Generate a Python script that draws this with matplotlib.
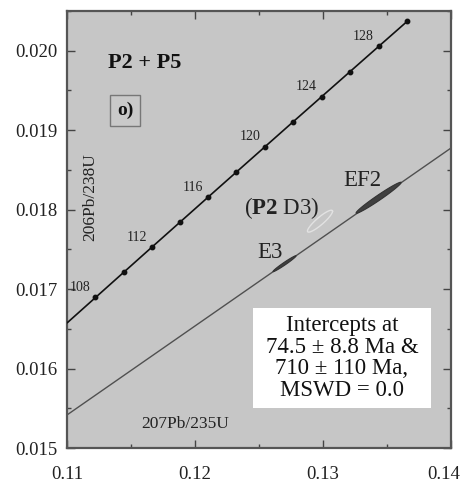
import numpy as np
import matplotlib
matplotlib.use("Agg")
import matplotlib.pyplot as plt
import matplotlib.transforms as mtransforms
from matplotlib.patches import Rectangle
from matplotlib.ticker import MultipleLocator

plt.rcParams['font.family'] = ['Liberation Serif', 'DejaVu Serif']
plt.rcParams['mathtext.fontset'] = 'custom'
plt.rcParams['mathtext.rm'] = 'Liberation Serif'
plt.rcParams['mathtext.bf'] = 'Liberation Serif:bold'

# постоянные распада (1/год)
lam238 = 1.55125e-10
lam235 = 9.8485e-10

# возрасты меток на конкордии, млн лет
ages = [108, 110, 112, 114, 116, 118, 120, 122, 124, 126, 128, 130]
age_labels = [108, 112, 116, 120, 124, 128]
# диапазон кривой конкордии
curve_age_min = 106.0
curve_age_max = 130.0

# пересечения дискордии, млн лет
lower_intercept = 74.5
upper_intercept = 710.0

# эллипсы: x (207Pb/235U), sx, y (206Pb/238U), sy, rho
names = ['E3', 'EF2', 'P2 D3']
ell_x = [0.1270, 0.13435, 0.12977]
ell_sx = [0.00090, 0.00176, 0.00098]
ell_y = [0.01732, 0.01815, 0.017855]
ell_sy = [0.00010, 0.000195, 0.000138]
ell_rho = [0.98, 0.98, 0.90]


def pb206(t):
    return np.exp(lam238 * np.asarray(t) * 1e6) - 1


def pb207(t):
    return np.exp(lam235 * np.asarray(t) * 1e6) - 1


fig = plt.figure(figsize=(4.62, 4.82), dpi=100)
ax = fig.add_axes([0.145, 0.0705, 0.831, 0.9066])
ax.set_facecolor('#c6c6c6')

# конкордия
tc = np.linspace(curve_age_min, curve_age_max, 200)
ax.plot(pb207(tc), pb206(tc), color='#111111', lw=1.2, zorder=3)
ax.plot(pb207(ages), pb206(ages), 'o', color='#111111', ms=3.2, zorder=4)
for a in age_labels:
    ax.annotate(str(a), (pb207(a), pb206(a)), xytext=(-15, 10),
                textcoords='offset pixels', ha='center', va='center',
                fontsize=10, color='#222222')

# дискордия
ti = np.array([lower_intercept, upper_intercept])
ax.plot(pb207(ti), pb206(ti), color='#505050', lw=1.0, zorder=2)

# эллипсы погрешностей
t = np.linspace(0, 2 * np.pi, 200)
for i in range(3):
    ex = ell_x[i] + ell_sx[i] * np.cos(t)
    ey = ell_y[i] + ell_sy[i] * (ell_rho[i] * np.cos(t)
                                 + np.sqrt(1 - ell_rho[i] ** 2) * np.sin(t))
    if names[i] == 'P2 D3':
        ax.plot(ex, ey, color='#e2e2e2', lw=1.0, zorder=3)
    else:
        ax.fill(ex, ey, facecolor='#404040', edgecolor='#333333', lw=0.8, zorder=3)

# подписи
ax.text(0.1132, 0.019843, 'P2 + P5', fontsize=16, fontweight='bold',
        ha='left', va='center', color='#111111')
ax.text(0.11453, 0.019252, 'o)', fontsize=14, fontweight='bold',
        ha='center', va='center', color='#111111',
        bbox=dict(boxstyle='square,pad=0.35', facecolor='#c9c9c9',
                  edgecolor='#777777', lw=1))
ax.text(0.1118, 0.018157, '206Pb/238U', fontsize=12.5, rotation=90,
        ha='center', va='center', color='#222222')
ax.text(0.1192, 0.0153, '207Pb/235U', fontsize=12.5,
        ha='center', va='center', color='#222222')
ax.text(0.1331, 0.01837, 'EF2', fontsize=16.5, ha='center', va='center',
        color='#222222')
ax.text(0.12586, 0.017465, 'E3', fontsize=16.5, ha='center', va='center',
        color='#222222')
ax.text(0.1268, 0.01802, r'($\mathbf{P2}$ D3)', fontsize=16.5,
        ha='center', va='center', color='#222222')

ax.add_patch(Rectangle((0.484, 0.0915), 0.464, 0.2285, transform=ax.transAxes,
                       facecolor='white', edgecolor='none', zorder=5))
ax.text(0.716, 0.206,
        'Intercepts at\n74.5 \u00b1 8.8 Ma &\n710 \u00b1 110 Ma,\nMSWD = 0.0',
        transform=ax.transAxes, fontsize=16.5, linespacing=1.05,
        ha='center', va='center', color='#111111', zorder=6)

ax.set_xlim(0.11, 0.14)
ax.set_ylim(0.015, 0.0205)
ax.xaxis.set_major_locator(MultipleLocator(0.01))
ax.xaxis.set_minor_locator(MultipleLocator(0.005))
ax.yaxis.set_major_locator(MultipleLocator(0.001))
ax.yaxis.set_minor_locator(MultipleLocator(0.0005))
ax.xaxis.set_major_formatter(plt.FuncFormatter(lambda v, p: f'{v:.2f}'))
ax.yaxis.set_major_formatter(plt.FuncFormatter(lambda v, p: f'{v:.3f}'))
ax.tick_params(which='both', direction='in', top=True, right=True,
               color='#444444', labelsize=13.5, labelcolor='#222222')
ax.tick_params(which='major', length=6, width=1, pad=7)
ax.tick_params(which='minor', length=3, width=1)
ax.tick_params(axis='x', which='major', pad=13)
for s in ax.spines.values():
    s.set_linewidth(1.6)
    s.set_color('#555555')

# сдвигаем крайнюю правую подпись, чтобы она не обрезалась
fig.canvas.draw()
for tick in ax.xaxis.get_major_ticks():
    if abs(tick.get_loc() - 0.14) < 1e-9:
        lbl = tick.label1
        lbl.set_transform(lbl.get_transform() +
                          mtransforms.ScaledTranslation(-7 / 100, 0, fig.dpi_scale_trans))

fig.savefig('out.png', dpi=100)
